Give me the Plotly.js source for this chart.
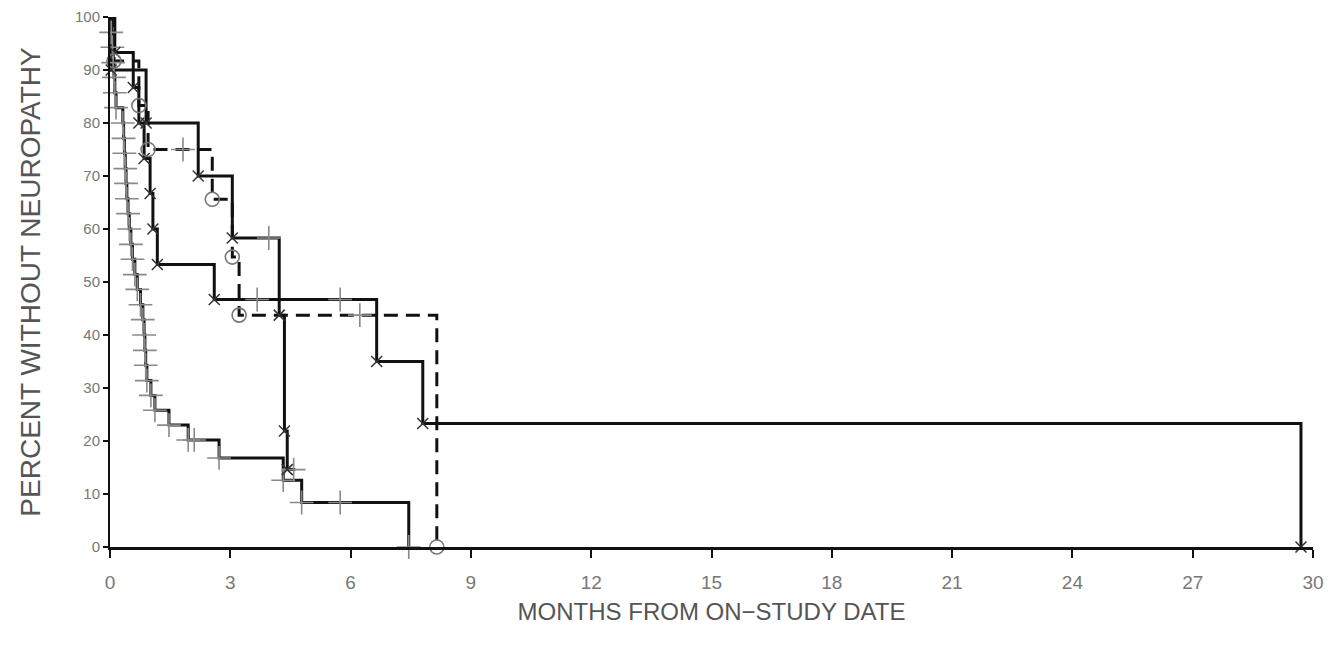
<!DOCTYPE html>
<html>
<head>
<meta charset="utf-8">
<script src="https://cdn.plot.ly/plotly-3.0.1.min.js"></script>
<style>html,body{margin:0;padding:0;background:#fff;}#chart{width:1341px;height:657px;}</style>
</head>
<body>
<div id="chart"></div>
<script>
// ---- Data (months, percent without neuropathy) ----
// Curve A (gray "+" symbols, solid, fastest decline)
const timesA = [0.03,0.06,0.08,0.10,0.12,0.15,0.32,0.34,0.36,0.38,0.40,0.42,0.45,0.48,0.52,0.56,0.62,0.68,0.76,0.82,0.85,0.87,0.89,0.92,1.02,1.12,1.47,1.95,2.72,4.32,4.78,7.45];
const survA  = [97.1,94.3,91.4,88.6,85.7,82.9,80.0,77.1,74.3,71.4,68.6,65.7,62.9,60.0,57.1,54.3,51.4,48.6,45.7,42.9,40.0,37.1,34.3,31.4,28.6,25.8,23.0,20.2,16.8,12.6,8.4,0];
const censorTimesA = [2.10, 5.74];
const censorSurvA  = [20.2, 8.4];

// Curve B ("x" symbols, solid, long tail)
const timesB = [0.12,0.58,0.72,0.85,1.00,1.07,1.18,2.60,6.65,7.80,29.70];
const survB  = [93.3,86.7,80.0,73.3,66.7,60.0,53.3,46.7,35.0,23.3,0];
const censorTimesB = [3.67, 5.74];
const censorSurvB  = [46.7, 46.7];

// Curve C ("x" symbols, solid)
const timesC = [0.03,0.90,2.20,3.05,4.22,4.35,4.42];
const survC  = [90.0,80.0,70.0,58.3,43.75,21.9,14.6];
const censorTimesC = [3.96, 4.58];
const censorSurvC  = [58.3, 14.6];
const lastTimeC = 4.62;

// Curve D ("O" symbols, dashed)
const timesD = [0.10,0.72,0.95,2.55,3.05,3.22,8.15];
const survD  = [91.7,83.3,75.0,65.6,54.7,43.75,0];
const censorTimesD = [1.82, 6.23];
const censorSurvD  = [75.0, 43.75];

// Axis ticks
const xTicks = [0,3,6,9,12,15,18,21,24,27,30];
const yTicks = [0,10,20,30,40,50,60,70,80,90,100];

// ---- Build traces ----
function stepLine(times, surv, dash, endTime) {
  const x = [0].concat(times);
  const y = [100].concat(surv);
  if (endTime !== undefined) { x.push(endTime); y.push(surv[surv.length-1]); }
  return {x:x, y:y, mode:'lines', line:{shape:'hv', color:'#111', width:3, dash:dash},
          hoverinfo:'skip', showlegend:false, cliponaxis:false, type:'scatter'};
}
function marks(x, y, symbol, size, color, w) {
  return {x:x, y:y, mode:'markers', type:'scatter', showlegend:false, cliponaxis:false,
          marker:{symbol:symbol, size:size, color:color, line:{color:color, width:w}}};
}

const plusColor = '#8a8a8a';
const traces = [
  stepLine(timesA, survA, 'solid'),
  stepLine(timesB, survB, 'solid'),
  stepLine(timesC, survC, 'solid', lastTimeC),
  stepLine(timesD, survD, '14px,8px'),
  marks(timesA, survA, 'cross-thin-open', 17, plusColor, 1.6),
  marks(censorTimesA, censorSurvA, 'cross-thin-open', 17, plusColor, 1.6),
  marks(censorTimesB, censorSurvB, 'cross-thin-open', 17, plusColor, 1.6),
  marks(censorTimesC, censorSurvC, 'cross-thin-open', 17, plusColor, 1.6),
  marks(censorTimesD, censorSurvD, 'cross-thin-open', 17, plusColor, 1.6),
  marks(timesB, survB, 'x-thin-open', 11, '#333', 1.5),
  marks(timesC, survC, 'x-thin-open', 11, '#333', 1.5),
  marks(timesD, survD, 'circle-open', 14, '#777', 1.6)
];

const layout = {
  width:1341, height:657,
  margin:{l:110, r:28, t:17, b:110},
  paper_bgcolor:'#fff', plot_bgcolor:'#fff',
  font:{family:'Liberation Sans, Arial, sans-serif', color:'#666'},
  showlegend:false,
  xaxis:{
    range:[0,30], tickmode:'array', tickvals:xTicks, ticktext:xTicks.map(String),
    showgrid:false, zeroline:false, showline:true, linecolor:'#111', linewidth:3,
    ticks:'outside', ticklen:8, tickwidth:2, tickcolor:'#111', ticklabelstandoff:8,
    tickfont:{size:19, color:'#777'},
    title:{text:'MONTHS FROM ON\u2212STUDY DATE', font:{size:24, color:'#555'}, standoff:12},
    fixedrange:true
  },
  yaxis:{
    range:[0,100], tickmode:'array', tickvals:yTicks, ticktext:yTicks.map(String),
    showgrid:false, zeroline:false, showline:true, linecolor:'#111', linewidth:2,
    ticks:'outside', ticklen:5, tickwidth:2, tickcolor:'#111',
    tickfont:{size:15, color:'#777'},
    title:{text:'PERCENT WITHOUT NEUROPATHY', font:{size:28, color:'#555'}, standoff:26},
    fixedrange:true
  }
};

Plotly.newPlot('chart', traces, layout, {staticPlot:true, displayModeBar:false});
</script>
</body>
</html>
